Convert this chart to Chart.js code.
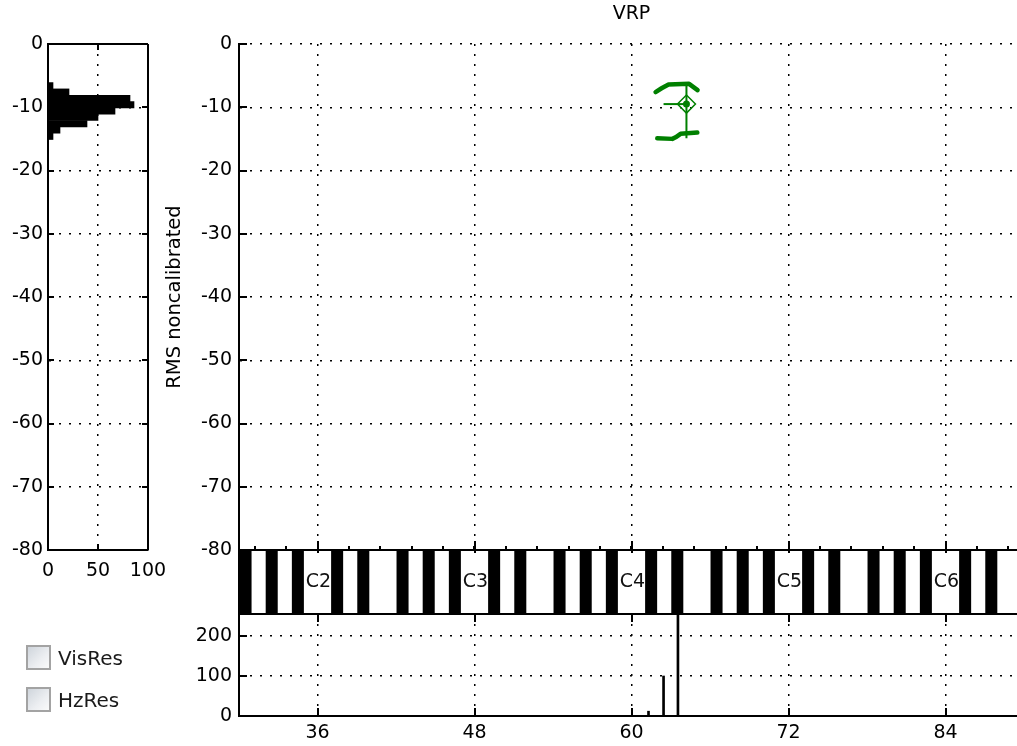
<!DOCTYPE html>
<html>
<head>
<meta charset="utf-8">
<title>VRP</title>
<script src="https://cdn.jsdelivr.net/npm/chart.js@4.4.1/dist/chart.umd.min.js"></script>
<style>
  html, body { margin: 0; padding: 0; width: 1017px; height: 746px; overflow: hidden; background: #fff; }
  canvas { position: absolute; left: 0; top: 0; }
  .check { position: absolute; left: 26px; height: 25px; display: flex; align-items: center;
           font-family: 'DejaVu Sans', sans-serif; font-size: 20px; color: #1a1a1a; }
  .check .box { width: 21px; height: 21px; border: 2px solid #a3a3a3; margin-right: 7px;
                background: linear-gradient(135deg, #cfd5dc 0%, #eceef1 60%, #fafafa 100%); }
</style>
</head>
<body>
<canvas id="hist" width="200" height="600"></canvas>
<canvas id="vrp" width="1024" height="580"></canvas>
<canvas id="keys" width="1024" height="746"></canvas>
<canvas id="counts" width="1024" height="746"></canvas>
<div class="check" style="top:645px"><span class="box"></span>VisRes</div>
<div class="check" style="top:687px"><span class="box"></span>HzRes</div>
<script>
// Pitch axis (MIDI note numbers) and level axis (dB)
const midiTicks = [36, 48, 60, 72, 84];
const octaveNames = ['C2', 'C3', 'C4', 'C5', 'C6'];
const levelTicks = [0, -10, -20, -30, -40, -50, -60, -70, -80];
const countTicks = [0, 100, 200];
const histTicks = [0, 50, 100];
const minorStep = 2.4;

// Level histogram, 1 dB bins
const histLevels = [-6.6, -7.6, -8.6, -9.6, -10.6, -11.6, -12.6, -13.6, -14.6];
const histCounts = [5, 21, 82, 86, 67, 50, 39, 12, 5];

// Voice range profile contour
const upperMidi = [61.84, 62.3, 62.83, 64.4, 65.05];
const upperLevel = [-7.6, -7.0, -6.4, -6.3, -7.3];
const lowerMidi = [61.97, 63.12, 63.37, 63.75, 65.03];
const lowerLevel = [-14.9, -15.0, -14.75, -14.2, -14.0];
const centroidMidi = 64.2;
const centroidLevel = -9.5;
const crossMidi = [62.45, 64.2];
const crossLevel = [-6.6, -14.9];

// Black keys of the piano strip
const blackKeys = [30, 32, 34, 37, 39, 42, 44, 46, 49, 51, 54, 56, 58, 61, 63, 66, 68, 70, 73, 75, 78, 80, 82, 85, 87];

// Pitch occurrence counts
const countMidi = [61.3, 62.45, 63.55];
const countValues = [12, 100, 300];

const GREEN = '#008000';
Chart.defaults.font.family = "'DejaVu Sans', sans-serif";
Chart.defaults.font.size = 19;
Chart.defaults.color = '#000';
Chart.defaults.plugins.legend.display = false;
Chart.defaults.plugins.tooltip.enabled = false;

const base = { responsive: false, animation: false, devicePixelRatio: 1, events: [] };

// dotted grid with a solid axis line; values listed in `skip` get no grid line
function dotted(skip) {
  return {
    grid: {
      color: c => (skip && c.tick && skip.includes(c.tick.value)) ? 'rgba(0,0,0,0)' : '#000',
      lineWidth: 1.5, drawTicks: false, offset: false
    },
    border: { display: true, color: '#000', width: 2, dash: [2, 8] }
  };
}
const fixedTicks = vals => s => { s.ticks = vals.map(v => ({ value: v })); };

// short tick marks pointing into the plot area
const innerTicks = {
  id: 'innerTicks',
  afterDraw(chart, args, opts) {
    const { ctx, chartArea: a } = chart;
    ctx.save();
    ctx.strokeStyle = '#000';
    ctx.lineWidth = 2;
    (opts.marks || []).forEach(m => {
      const sc = chart.scales[m.scale];
      m.values.forEach(v => {
        if (v < sc.min || v > sc.max) return;
        const p = Math.round(sc.getPixelForValue(v));
        ctx.beginPath();
        if (m.side === 'left') { ctx.moveTo(a.left, p); ctx.lineTo(a.left + m.len, p); }
        if (m.side === 'right') { ctx.moveTo(a.right, p); ctx.lineTo(a.right - m.len, p); }
        if (m.side === 'bottom') { ctx.moveTo(p, a.bottom); ctx.lineTo(p, a.bottom - m.len); }
        if (m.side === 'top') { ctx.moveTo(p, a.top); ctx.lineTo(p, a.top + m.len); }
        ctx.stroke();
      });
    });
    ctx.restore();
  }
};

// solid box around the plot area
const frame = {
  id: 'frame',
  afterDraw(chart, args, opts) {
    if (!opts.sides) return;
    const { ctx, chartArea: a } = chart;
    ctx.save();
    ctx.strokeStyle = '#000';
    ctx.lineWidth = 2;
    ctx.beginPath();
    if (opts.sides.includes('top')) { ctx.moveTo(a.left, a.top); ctx.lineTo(a.right, a.top); }
    if (opts.sides.includes('right')) { ctx.moveTo(a.right, a.top); ctx.lineTo(a.right, a.bottom); }
    if (opts.sides.includes('bottom')) { ctx.moveTo(a.left, a.bottom); ctx.lineTo(a.right, a.bottom); }
    if (opts.sides.includes('left')) { ctx.moveTo(a.left, a.top); ctx.lineTo(a.left, a.bottom); }
    ctx.stroke();
    ctx.restore();
  }
};

// ---- level histogram ----
new Chart(document.getElementById('hist'), {
  type: 'bar',
  data: {
    datasets: [{
      data: histLevels.map((l, i) => ({ x: histCounts[i], y: l })),
      backgroundColor: '#000', borderWidth: 0,
      barPercentage: 1, categoryPercentage: 1
    }]
  },
  options: Object.assign({}, base, {
    indexAxis: 'y',
    layout: { autoPadding: false, padding: { top: 44, left: 0, right: 52, bottom: 0 } },
    scales: {
      x: Object.assign({
        type: 'linear', min: 0, max: 100, position: 'bottom',
        afterBuildTicks: fixedTicks(histTicks),
        afterFit: s => { s.height = 50; },
        ticks: { padding: 10 }
      }, dotted([0, 100])),
      y: Object.assign({
        type: 'linear', min: -80, max: 0, offset: false,
        afterBuildTicks: fixedTicks(levelTicks),
        afterFit: s => { s.width = 48; },
        ticks: { padding: 5 }
      }, dotted([0, -80]))
    },
    plugins: {
      frame: { sides: ['top', 'right'] },
      innerTicks: { marks: [
        { scale: 'y', side: 'left', values: levelTicks, len: 6 },
        { scale: 'y', side: 'right', values: levelTicks, len: 6 },
        { scale: 'x', side: 'bottom', values: histTicks, len: 6 },
        { scale: 'x', side: 'top', values: histTicks, len: 6 }
      ] }
    }
  }),
  plugins: [frame, innerTicks]
});

// ---- voice range profile ----
const pts = (xs, ys) => xs.map((x, i) => ({ x, y: ys[i] }));
const contourStyle = { borderColor: GREEN, borderWidth: 4.5, pointRadius: 0, showLine: true,
                       borderCapStyle: 'round', borderJoinStyle: 'round' };
new Chart(document.getElementById('vrp'), {
  type: 'scatter',
  data: {
    datasets: [
      Object.assign({ data: pts(upperMidi, upperLevel) }, contourStyle),
      Object.assign({ data: pts(lowerMidi, lowerLevel) }, contourStyle),
      { data: pts(crossMidi, [centroidLevel, centroidLevel]), borderColor: GREEN, borderWidth: 2, pointRadius: 0, showLine: true },
      { data: pts([centroidMidi, centroidMidi], crossLevel), borderColor: GREEN, borderWidth: 2, pointRadius: 0, showLine: true },
      { data: [{ x: centroidMidi, y: centroidLevel }], pointStyle: 'rectRot', pointRadius: 9,
        pointBorderWidth: 1.5, pointBorderColor: GREEN, pointBackgroundColor: 'rgba(0,0,0,0)', showLine: false },
      { data: [{ x: centroidMidi, y: centroidLevel }], pointStyle: 'circle', pointRadius: 3.5,
        pointBorderWidth: 0, pointBackgroundColor: GREEN, showLine: false }
    ]
  },
  options: Object.assign({}, base, {
    layout: { autoPadding: false, padding: { top: 0, left: 0, right: 0, bottom: 30 } },
    scales: {
      x: Object.assign({
        type: 'linear', min: 30, max: 90,
        afterBuildTicks: fixedTicks(midiTicks),
        afterFit: s => { s.height = 0; },
        ticks: { display: false }
      }, dotted(), { border: { display: false, dash: [2, 8] } }),
      y: Object.assign({
        type: 'linear', min: -80, max: 0,
        afterBuildTicks: fixedTicks(levelTicks),
        afterFit: s => { s.width = 239; },
        ticks: { padding: 7 },
        title: { display: true, text: 'RMS noncalibrated', font: { size: 19.5 }, color: '#000',
                 padding: { top: 163.3, bottom: 0 } }
      }, dotted([-80]))
    },
    plugins: {
      title: { display: true, text: 'VRP', fullSize: false, color: '#000',
               font: { size: 19, weight: 'normal' }, padding: { top: 2.6, bottom: 18.6 } },
      innerTicks: { marks: [
        { scale: 'y', side: 'left', values: levelTicks, len: 8 }
      ] }
    }
  }),
  plugins: [innerTicks]
});

// ---- piano keyboard strip ----
const keyboardDecor = {
  id: 'keyboardDecor',
  beforeDraw(chart) {
    const { ctx, chartArea: a } = chart;
    ctx.save();
    ctx.fillStyle = '#fff';
    ctx.fillRect(a.left, a.top, a.right - a.left, a.bottom - a.top);
    ctx.restore();
  },
  beforeDatasetsDraw(chart) {
    const { ctx, chartArea: a } = chart;
    const sx = chart.scales.x;
    ctx.save();
    ctx.fillStyle = '#111';
    ctx.font = "19px 'DejaVu Sans', sans-serif";
    ctx.textAlign = 'center';
    ctx.textBaseline = 'middle';
    octaveNames.forEach((name, i) => {
      ctx.fillText(name, sx.getPixelForValue(midiTicks[i]) + 1, (a.top + a.bottom) / 2);
    });
    ctx.restore();
  },
  afterDraw(chart) {
    const { ctx, chartArea: a } = chart;
    const sx = chart.scales.x;
    ctx.save();
    ctx.strokeStyle = '#000';
    ctx.lineWidth = 2;
    ctx.strokeRect(a.left, a.top, a.right - a.left, a.bottom - a.top);
    // tick marks of the pitch axis, pointing up into the profile area
    ctx.beginPath();
    for (let v = midiTicks[0] - 2 * minorStep; v <= sx.max; v += minorStep) {
      const p = Math.round(sx.getPixelForValue(v));
      ctx.moveTo(p, a.top); ctx.lineTo(p, a.top - 4);
    }
    midiTicks.forEach(v => {
      const p = Math.round(sx.getPixelForValue(v));
      ctx.moveTo(p, a.top + 3); ctx.lineTo(p, a.top - 9);
    });
    ctx.stroke();
    ctx.restore();
  }
};
new Chart(document.getElementById('keys'), {
  type: 'bar',
  data: {
    datasets: [{
      data: blackKeys.map(n => ({ x: n + 0.5, y: [0, 1] })),
      backgroundColor: '#000', borderWidth: 0,
      barPercentage: 0.46, categoryPercentage: 1
    }]
  },
  options: Object.assign({}, base, {
    layout: { autoPadding: false, padding: { top: 550, left: 239, right: 0, bottom: 132 } },
    scales: {
      x: { type: 'linear', min: 30, max: 90, offset: false, display: false, grid: { offset: false } },
      y: { type: 'linear', min: 0, max: 1, display: false }
    }
  }),
  plugins: [keyboardDecor]
});

// ---- pitch occurrence counts ----
new Chart(document.getElementById('counts'), {
  type: 'bar',
  data: {
    datasets: [{
      data: pts(countMidi, countValues),
      backgroundColor: '#000', borderWidth: 0, barThickness: 2
    }]
  },
  options: Object.assign({}, base, {
    layout: { autoPadding: false, padding: { top: 614, left: 0, right: 0, bottom: 0 } },
    scales: {
      x: Object.assign({
        type: 'linear', min: 30, max: 90, offset: false,
        afterBuildTicks: fixedTicks(midiTicks),
        afterFit: s => { s.height = 30; },
        ticks: { padding: 6 }
      }, dotted()),
      y: Object.assign({
        type: 'linear', min: 0, max: 255,
        afterBuildTicks: fixedTicks(countTicks),
        afterFit: s => { s.width = 239; },
        ticks: { padding: 7 }
      }, dotted([0]))
    },
    plugins: {
      frame: { sides: ['top'] },
      innerTicks: { marks: [
        { scale: 'y', side: 'left', values: countTicks, len: 8 },
        { scale: 'x', side: 'bottom', values: midiTicks, len: 8 },
        { scale: 'x', side: 'top', values: midiTicks, len: 8 }
      ] }
    }
  }),
  plugins: [frame, innerTicks]
});
</script>
</body>
</html>
